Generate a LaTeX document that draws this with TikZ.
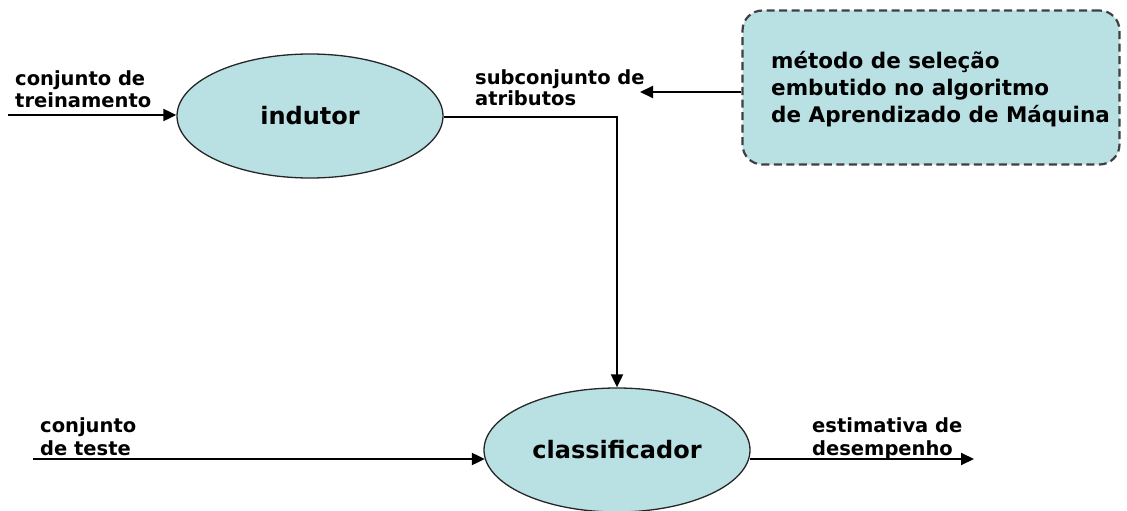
\documentclass[tikz,border=0pt]{standalone}
\usepackage{fontspec}
\setmainfont{DejaVu Sans}
\usetikzlibrary{shapes.geometric,arrows.meta}
\definecolor{teal1}{HTML}{B9E0E3}
\tikzset{
  proc/.style={ellipse,draw=black!85,line width=1.3pt,fill=teal1,inner sep=0pt,minimum width=266pt,minimum height=124pt,font=\bfseries\fontsize{24}{28}\selectfont},
  lbl/.style={anchor=base west,align=left,font=\bfseries\fontsize{19.5}{21.5}\selectfont,inner sep=0pt},
  flow/.style={line width=2pt,-{Triangle[length=13pt,width=12pt]}},
}
\begin{document}
\begin{tikzpicture}[x=1pt,y=-1pt]
\useasboundingbox (0,0) rectangle (1127,511);
\node[proc] (ind) at (310,116) {indutor};
\node[proc] (cls) at (617,450) {classificador};
\node[draw=black!75,dash pattern=on 8pt off 4.5pt,line width=2.2pt,fill=teal1,rounded corners=20pt,minimum width=377pt,minimum height=154pt] (box) at (931,87.5) {};
\node[lbl,font=\bfseries\fontsize{21.5}{27}\selectfont] (boxt) at (771,122) {método de seleção\\embutido no algoritmo\\de Aprendizado de Máquina};
\coordinate (in1) at (8,115);
\coordinate (in2) at (33,459);
\coordinate (out) at (974,459);
\coordinate (corner) at (617,117);
\coordinate (sub) at (640,92);
\node[lbl] (t1) at (15,107) {conjunto de\\treinamento};
\node[lbl] (t2) at (475,106) {subconjunto de\\atributos};
\node[lbl,font=\bfseries\fontsize{19.5}{23}\selectfont] (t3) at (40,455) {conjunto\\de teste};
\node[lbl,font=\bfseries\fontsize{19.5}{23}\selectfont] (t4) at (812,455) {estimativa de\\desempenho};
\draw[flow] (in1) -- (in1 -| ind.west);
\draw[flow] (ind.east |- corner) -- (corner) -- (cls.north);
\draw[flow] (box.west |- sub) -- (sub);
\draw[flow] (in2) -- ([xshift=1.5pt]in2 -| cls.west);
\draw[flow] ([xshift=-1pt]cls.east |- out) -- (out);
\end{tikzpicture}
\end{document}
